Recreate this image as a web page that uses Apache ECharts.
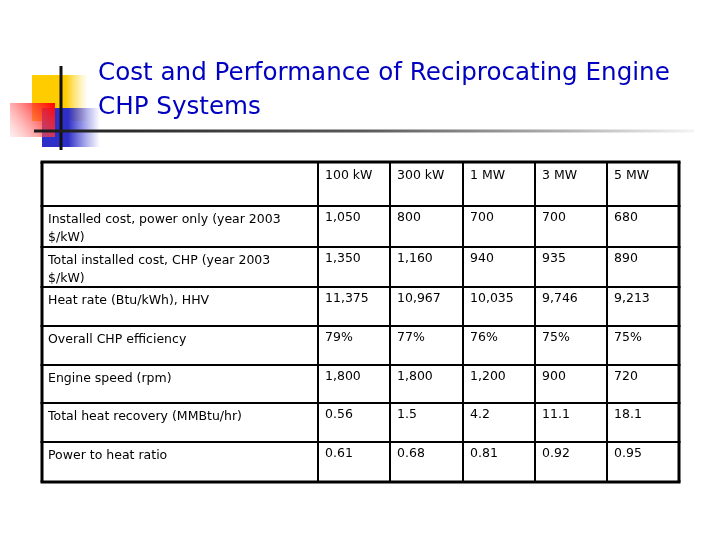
<!DOCTYPE html>
<html>
<head>
<meta charset="utf-8">
<script src="https://cdn.jsdelivr.net/npm/echarts@6/dist/echarts.min.js"></script>
<style>
  html, body { margin: 0; padding: 0; background: #fff; }
  #chart { width: 720px; height: 540px; }
</style>
</head>
<body>
<div id="chart"></div>
<script>
// table content
var titleLines = ['Cost and Performance of Reciprocating Engine', 'CHP Systems']
var columns = ['100 kW', '300 kW', '1 MW', '3 MW', '5 MW']
var rowLabels = [
  'Installed cost, power only (year 2003\n$/kW)',
  'Total installed cost, CHP (year 2003\n$/kW)',
  'Heat rate (Btu/kWh), HHV',
  'Overall CHP efficiency',
  'Engine speed (rpm)',
  'Total heat recovery (MMBtu/hr)',
  'Power to heat ratio'
]
var installedCost = ['1,050', '800', '700', '700', '680']
var totalInstalledCost = ['1,350', '1,160', '940', '935', '890']
var heatRate = ['11,375', '10,967', '10,035', '9,746', '9,213']
var efficiency = ['79%', '77%', '76%', '75%', '75%']
var engineSpeed = ['1,800', '1,800', '1,200', '900', '720']
var heatRecovery = ['0.56', '1.5', '4.2', '11.1', '18.1']
var powerToHeat = ['0.61', '0.68', '0.81', '0.92', '0.95']

var rows = [installedCost, totalInstalledCost, heatRate, efficiency, engineSpeed, heatRecovery, powerToHeat]

// grid lines of the table
var colX = [42, 318, 390, 463, 535, 607, 679]
var rowY = [162, 206, 247, 287, 326, 365, 403, 442, 482]

var cellFont = 'Tahoma, "DejaVu Sans", sans-serif'
var elements = []

// slide decoration
elements.push({
  type: 'rect', shape: { x: 32, y: 75, width: 56, height: 46 },
  style: { fill: new echarts.graphic.LinearGradient(0, 0, 1, 0, [
    { offset: 0, color: '#FFCC00' }, { offset: 0.6, color: '#FFCC00' }, { offset: 1, color: 'rgba(255,220,80,0)' }
  ]) }
})
elements.push({
  type: 'rect', shape: { x: 42, y: 108, width: 58, height: 39 },
  style: { fill: new echarts.graphic.LinearGradient(0, 0, 1, 0, [
    { offset: 0, color: '#2E2EC8' }, { offset: 0.45, color: '#2E2EC8' }, { offset: 1, color: 'rgba(80,80,220,0)' }
  ]) }
})
elements.push({
  type: 'rect', shape: { x: 10, y: 103, width: 45, height: 34 },
  style: { fill: new echarts.graphic.LinearGradient(0, 1, 1, 0, [
    { offset: 0, color: 'rgba(255,150,150,0.15)' }, { offset: 0.6, color: 'rgba(255,60,60,0.75)' }, { offset: 1, color: '#FF0000' }
  ]) }
})
elements.push({
  type: 'line', shape: { x1: 61, y1: 66, x2: 61, y2: 150 },
  style: { stroke: '#111', lineWidth: 3 }
})
elements.push({
  type: 'rect', shape: { x: 34, y: 129.5, width: 660, height: 3 },
  style: { fill: new echarts.graphic.LinearGradient(0, 0, 1, 0, [
    { offset: 0, color: '#1a1a1a' }, { offset: 0.5, color: '#5a5a5a' }, { offset: 0.8, color: '#b0b0b0' }, { offset: 1, color: '#f4f4f4' }
  ]) }
})

// title
titleLines.forEach(function (t, i) {
  elements.push({
    type: 'text', x: 98, y: 74 + i * 34,
    style: { text: t, fill: '#0000C0', font: '24.6px Tahoma, "DejaVu Sans", sans-serif', verticalAlign: 'middle' }
  })
})

// table lines
colX.forEach(function (x, i) {
  var outer = i === 0 || i === colX.length - 1
  elements.push({
    type: 'line', shape: { x1: x, y1: rowY[0], x2: x, y2: rowY[rowY.length - 1] },
    style: { stroke: '#000', lineWidth: outer ? 3 : 2 }
  })
})
rowY.forEach(function (y, i) {
  var outer = i === 0 || i === rowY.length - 1
  elements.push({
    type: 'line', shape: { x1: colX[0] - 1.5, y1: y, x2: colX[colX.length - 1] + 1.5, y2: y },
    style: { stroke: '#000', lineWidth: outer ? 3 : 2 }
  })
})

// header
columns.forEach(function (c, i) {
  elements.push({
    type: 'text', x: colX[i + 1] + 7, y: rowY[0] + 7,
    style: { text: c, fill: '#000', font: '12.5px ' + cellFont, verticalAlign: 'top' }
  })
})

// body
rows.forEach(function (vals, r) {
  elements.push({
    type: 'text', x: colX[0] + 6, y: rowY[r + 1] + 5,
    style: { text: rowLabels[r], fill: '#000', font: '12.5px ' + cellFont, verticalAlign: 'top', lineHeight: 18 }
  })
  vals.forEach(function (v, c) {
    elements.push({
      type: 'text', x: colX[c + 1] + 7, y: rowY[r + 1] + 5,
      style: { text: v, fill: '#000', font: '12.5px ' + cellFont, verticalAlign: 'top' }
    })
  })
})

var chart = echarts.init(document.getElementById('chart'), null, { renderer: 'canvas' })
chart.setOption({
  backgroundColor: '#fff',
  animation: false,
  graphic: { elements: elements }
})
</script>
</body>
</html>
